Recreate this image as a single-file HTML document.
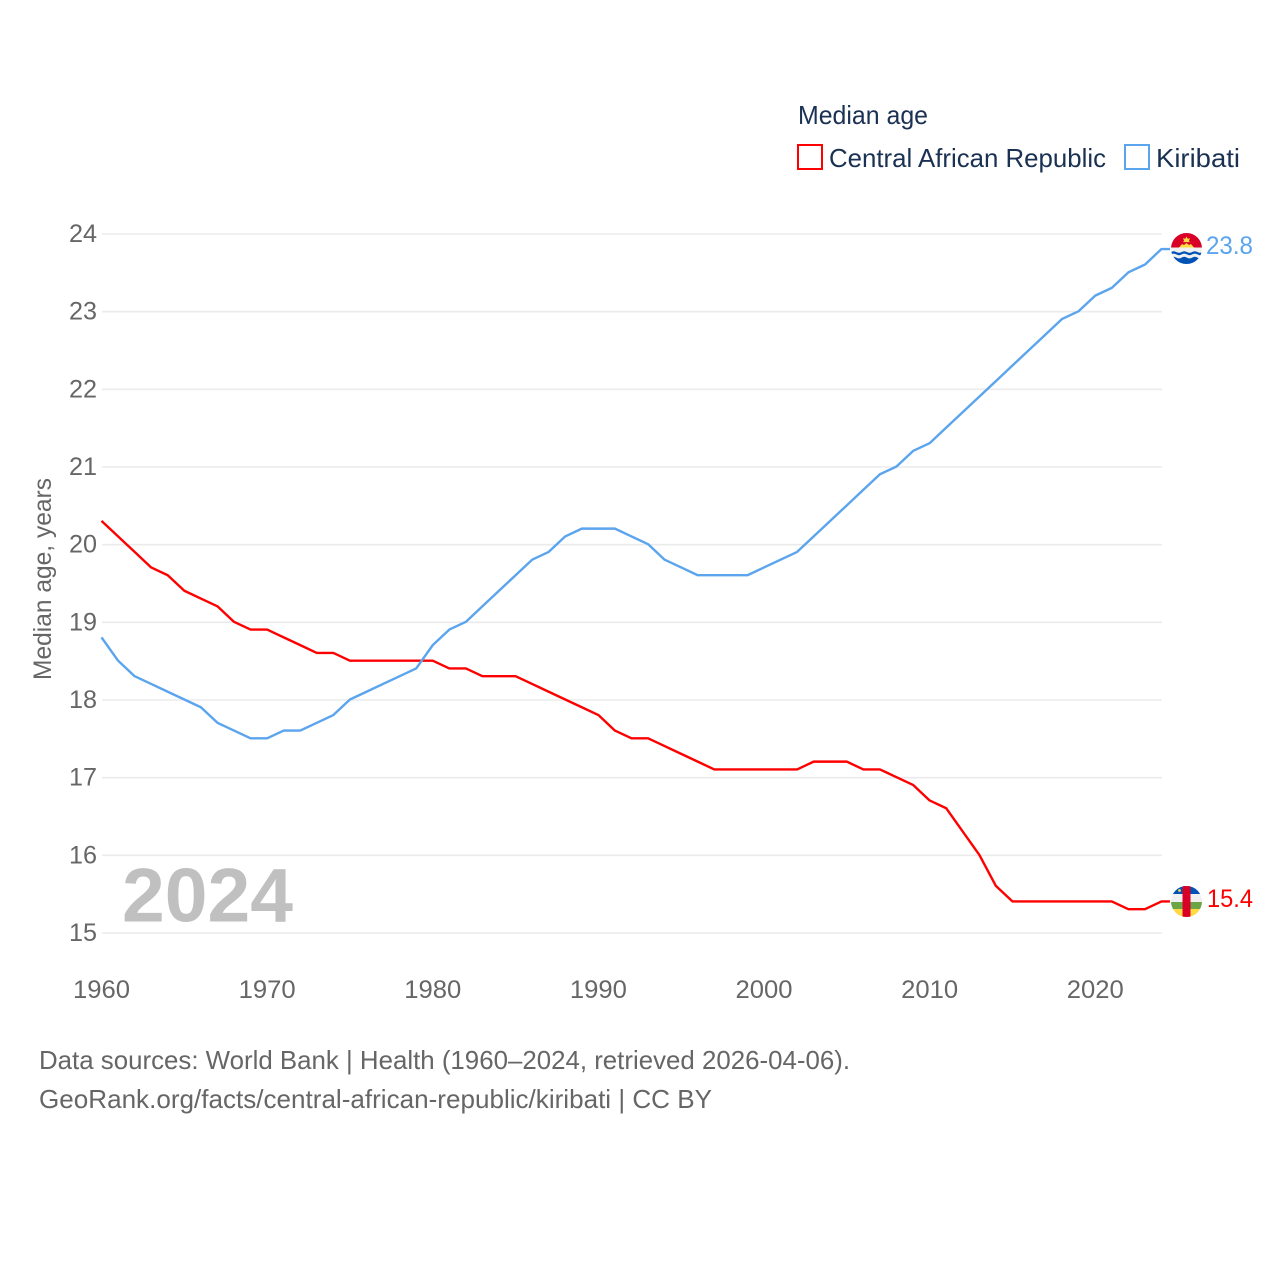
<!DOCTYPE html>
<html lang="en">
<head>
<meta charset="utf-8">
<title>Median age: Central African Republic and Kiribati</title>
<style>
html,body{margin:0;padding:0;background:#fff}
svg{display:block}
text{font-family:"Liberation Sans",sans-serif}
</style>
</head>
<body>
<svg id="chart" xmlns="http://www.w3.org/2000/svg" width="1280" height="1280" viewBox="0 0 1280 1280">
  <rect width="1280" height="1280" fill="#fff"/>
  <g id="grid"></g>
  <g id="ylabels"></g>
  <g id="xlabels"></g>
  <text transform="translate(51,579) rotate(-90)" text-anchor="middle" font-size="25" fill="#666" textLength="202" lengthAdjust="spacingAndGlyphs">Median age, years</text>
  <text x="122" y="921.5" font-size="76" font-weight="bold" fill="#c0c0c0" textLength="171" lengthAdjust="spacingAndGlyphs">2024</text>
  <g id="series"></g>

  <g>
    <text x="798" y="124" font-size="26" fill="#1a3153" textLength="130" lengthAdjust="spacingAndGlyphs">Median age</text>
    <rect x="798" y="145" width="24" height="24" fill="#fff" stroke="#ff0000" stroke-width="2"/>
    <text x="829" y="167" font-size="26" fill="#1a3153" textLength="277" lengthAdjust="spacingAndGlyphs">Central African Republic</text>
    <rect x="1125" y="145" width="24" height="24" fill="#fff" stroke="#5ba4ee" stroke-width="2"/>
    <text x="1156" y="167" font-size="26" fill="#1a3153" textLength="84" lengthAdjust="spacingAndGlyphs">Kiribati</text>
  </g>

  <defs>
    <clipPath id="kiClip"><circle cx="1186.5" cy="248.5" r="15.5"/></clipPath>
    <clipPath id="cfClip"><circle cx="1186.5" cy="901.5" r="15.5"/></clipPath>
  </defs>

  <g clip-path="url(#kiClip)">
    <rect x="1171" y="233" width="32" height="15" fill="#d80027"/>
    <rect x="1171" y="247.5" width="32" height="11" fill="#f0f0f0"/>
    <path d="M1171 252q2.6 -1.6 5.3 0t5.3 0t5.3 0t5.3 0t5.3 0t5.3 0v2.4q-2.6 1.6 -5.3 0t-5.3 0t-5.3 0t-5.3 0t-5.3 0t-5.3 0z" fill="#0052b4"/>
    <path d="M1171 257.6q2.6 -1.6 5.3 0t5.3 0t5.3 0t5.3 0t5.3 0t5.3 0v8h-32z" fill="#0052b4"/>
    <path d="M1179 247.5l3 -3.5 2 1 2.5 -2 2.5 2 2 -1 3 3.5z" fill="#ffda44"/>
    <path d="M1186.5 236.5l1.2 2.2 2.4 -.4 -1.2 2.2 1 1.6h-6.8l1 -1.6 -1.2 -2.2 2.4 .4z" fill="#ffda44"/>
  </g>
  <g clip-path="url(#cfClip)">
    <rect x="1171" y="886" width="32" height="8" fill="#0052b4"/>
    <rect x="1171" y="894" width="32" height="8" fill="#f0f0f0"/>
    <rect x="1171" y="902" width="32" height="7" fill="#6da544"/>
    <rect x="1171" y="909" width="32" height="8" fill="#ffda44"/>
    <rect x="1182.5" y="886" width="8" height="31" fill="#d80027"/>
    <circle cx="1179.5" cy="890.5" r="1.4" fill="#ffda44"/>
  </g>

  <text x="1206" y="254" font-size="25" fill="#5ba4ee" textLength="47" lengthAdjust="spacingAndGlyphs">23.8</text>
  <text x="1207" y="907" font-size="25" fill="#ff0000" textLength="46" lengthAdjust="spacingAndGlyphs">15.4</text>

  <text x="39" y="1069" font-size="26" fill="#666" textLength="811" lengthAdjust="spacingAndGlyphs">Data sources: World Bank | Health (1960–2024, retrieved 2026-04-06).</text>
  <text x="39" y="1108" font-size="26" fill="#666" textLength="673" lengthAdjust="spacingAndGlyphs">GeoRank.org/facts/central-african-republic/kiribati | CC BY</text>
</svg>
<script>
var startYear = 1960;
var yTicks = [15, 16, 17, 18, 19, 20, 21, 22, 23, 24];
var xTicks = [1960, 1970, 1980, 1990, 2000, 2010, 2020];
var carValues = [20.3,20.1,19.9,19.7,19.6,19.4,19.3,19.2,19.0,18.9,
  18.9,18.8,18.7,18.6,18.6,18.5,18.5,18.5,18.5,18.5,
  18.5,18.4,18.4,18.3,18.3,18.3,18.2,18.1,18.0,17.9,
  17.8,17.6,17.5,17.5,17.4,17.3,17.2,17.1,17.1,17.1,
  17.1,17.1,17.1,17.2,17.2,17.2,17.1,17.1,17.0,16.9,
  16.7,16.6,16.3,16.0,15.6,15.4,15.4,15.4,15.4,15.4,
  15.4,15.4,15.3,15.3,15.4];
var kiribatiValues = [18.8,18.5,18.3,18.2,18.1,18.0,17.9,17.7,17.6,17.5,
  17.5,17.6,17.6,17.7,17.8,18.0,18.1,18.2,18.3,18.4,
  18.7,18.9,19.0,19.2,19.4,19.6,19.8,19.9,20.1,20.2,
  20.2,20.2,20.1,20.0,19.8,19.7,19.6,19.6,19.6,19.6,
  19.7,19.8,19.9,20.1,20.3,20.5,20.7,20.9,21.0,21.2,
  21.3,21.5,21.7,21.9,22.1,22.3,22.5,22.7,22.9,23.0,
  23.2,23.3,23.5,23.6,23.8];

var NS = 'http://www.w3.org/2000/svg';
function xScale(year) { return 101.5 + (year - 1960) * (1161.5 - 101.5) / 64; }
function yScale(v) { return 933 - (v - 15) * (933 - 234) / 9; }
function yLine(v) { return yScale(v) - 0.5; }

var grid = document.getElementById('grid');
var ylabels = document.getElementById('ylabels');
var xlabels = document.getElementById('xlabels');
var series = document.getElementById('series');

yTicks.forEach(function (t) {
  var line = document.createElementNS(NS, 'line');
  
  
  line.setAttribute('x1', 102);
  line.setAttribute('x2', 1162);
  line.setAttribute('y1', yScale(t));
  line.setAttribute('y2', yScale(t));
  line.setAttribute('stroke', '#ebebeb');
  line.setAttribute('stroke-width', 1.6);
  grid.appendChild(line);

  var label = document.createElementNS(NS, 'text');
  
  
  label.setAttribute('x', 97);
  label.setAttribute('y', yScale(t) + 8);
  label.setAttribute('text-anchor', 'end');
  label.setAttribute('font-size', 25);
  label.setAttribute('fill', '#666');
  label.setAttribute('textLength', 28);
  label.setAttribute('lengthAdjust', 'spacingAndGlyphs');
  label.textContent = t;
  ylabels.appendChild(label);
});

xTicks.forEach(function (t) {
  var label = document.createElementNS(NS, 'text');
  
  
  label.setAttribute('x', xScale(t));
  label.setAttribute('y', 998);
  label.setAttribute('text-anchor', 'middle');
  label.setAttribute('font-size', 25);
  label.setAttribute('fill', '#666');
  label.setAttribute('textLength', 57);
  label.setAttribute('lengthAdjust', 'spacingAndGlyphs');
  label.textContent = t;
  xlabels.appendChild(label);
});

function drawSeries(values, color, name) {
  var pts = values.map(function (v, i) {
    return xScale(startYear + i).toFixed(2) + ',' + yLine(v).toFixed(2);
  });
  var last = values[values.length - 1];
  pts.push('1170,' + yLine(last).toFixed(2));
  var poly = document.createElementNS(NS, 'polyline');
  
  
  poly.setAttribute('points', pts.join(' '));
  poly.setAttribute('fill', 'none');
  poly.setAttribute('stroke', color);
  poly.setAttribute('stroke-width', 2.4);
  poly.setAttribute('stroke-linejoin', 'round');
  series.appendChild(poly);
}
drawSeries(carValues, '#ff0000', 'line-central-african-republic');
drawSeries(kiribatiValues, '#5ba4ee', 'line-kiribati');
</script>
</body>
</html>
